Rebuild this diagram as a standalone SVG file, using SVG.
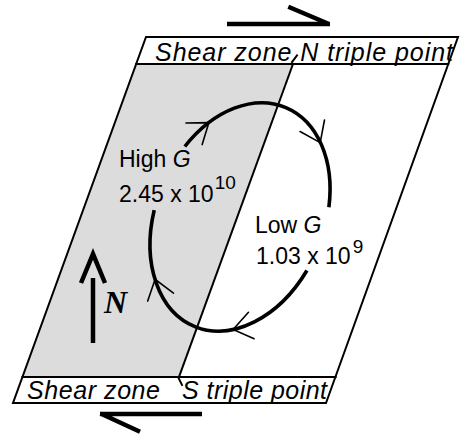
<svg xmlns="http://www.w3.org/2000/svg" width="461" height="435" viewBox="0 0 461 435">
<style>
.edge{fill:none;stroke:#000;stroke-width:2;stroke-linecap:square}
.band{font-family:"Liberation Sans",Arial,sans-serif;font-style:italic;font-size:25px;fill:#000}
.lbl{font-family:"Liberation Sans",Arial,sans-serif;font-size:23px;fill:#000}
.sup{font-size:19px}
.loop{fill:none;stroke:#000;stroke-width:3.6;stroke-linecap:butt}
.head{fill:none;stroke:#000;stroke-width:1.6;stroke-linecap:round;stroke-linejoin:miter}
.bold{fill:none;stroke:#000;stroke-width:4.5;stroke-linecap:butt}
</style>
<defs>
<path id="chev" class="head" d="M-18.6 -13.5 L0 0 L-18.6 13.5"/>
</defs>
<rect width="461" height="435" fill="#fff"/>
<g id="high-g-zone">
<polygon points="136.2,64 293,64 179,377 22.5,377" fill="#dcdcdc"/>
</g>
<g id="frame">
<polygon class="edge" points="146,37 458,37 326,403 13,403"/>
<line class="edge" x1="136.2" y1="64" x2="448.3" y2="64"/>
<line class="edge" x1="22.5" y1="377" x2="335.6" y2="377"/>
<line class="edge" x1="293" y1="64" x2="179" y2="377"/>
<line class="edge" x1="292" y1="62" x2="297" y2="55.5"/>
<line class="edge" x1="178" y1="377" x2="182" y2="385"/>
</g>
<g id="top-label">
<text class="band" x="155" y="61" font-size="26" textLength="298" lengthAdjust="spacing">Shear zone N triple point</text>
</g>
<g id="bottom-label">
<text class="band" x="27" y="399" textLength="133" lengthAdjust="spacing">Shear zone</text>
<text class="band" x="182" y="399" textLength="145" lengthAdjust="spacing">S triple point</text>
</g>
<g id="shear-arrows">
<path class="bold" d="M227 24 H330 M288.3 6.7 L329 24"/>
<path class="bold" d="M202 414 H100 M100.5 413.5 L140 431.7"/>
</g>
<g id="north-arrow">
<path class="bold" d="M93 278 V343"/>
<path class="bold" d="M81 283 L93 254 L105 283" style="stroke-linejoin:miter"/>
<text x="104" y="313" font-family="'Liberation Serif','Times New Roman',serif" font-weight="bold" font-style="italic" font-size="32">N</text>
</g>
<g id="high-g">
<text class="lbl" x="119" y="167">High <tspan font-style="italic">G</tspan></text>
<text class="lbl" x="119" y="202">2.45 x 10<tspan class="sup" dx="1" dy="-13">10</tspan></text>
</g>
<g id="low-g">
<text class="lbl" x="255" y="232.7">Low <tspan font-style="italic">G</tspan></text>
<text class="lbl" x="256" y="264">1.03 x 10<tspan class="sup" dx="2" dy="-11" font-size="20">9</tspan></text>
</g>
<g id="connectors">
<path class="loop" d="M184.8 146.5 A84 118.4 22.6 0 1 328.9 207.2"/>
<path class="loop" d="M306.9 270.5 A84 118.4 22.6 0 1 154.2 210.1"/>
<use href="#chev" transform="translate(208.9 122.6) rotate(-37)"/>
<use href="#chev" transform="translate(320.2 142.6) rotate(64.8)"/>
<use href="#chev" transform="translate(233.1 329.4) rotate(168)"/>
<use href="#chev" transform="translate(155.1 279.3) rotate(-107.2)"/>
</g>
</svg>
